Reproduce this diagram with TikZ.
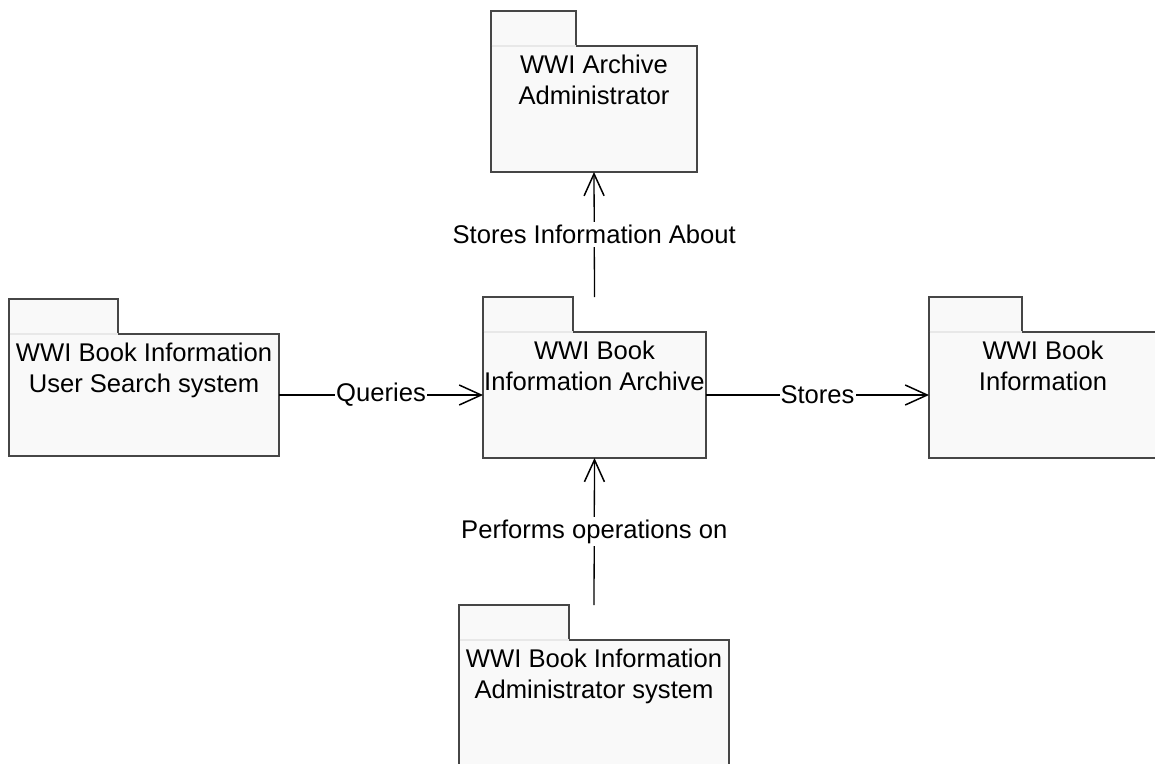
\documentclass[tikz,border=0pt]{standalone}
\usepackage{fontspec}
\setmainfont{Liberation Sans}
\usetikzlibrary{arrows.meta}
\usetikzlibrary{positioning}
\definecolor{pkgfill}{RGB}{249,249,249}
\definecolor{pkgline}{RGB}{70,70,70}
\definecolor{pkgfaint}{RGB}{232,232,232}
\tikzset{txt/.style={font=\fontsize{25.6}{31}\selectfont}}
\tikzset{pkgbody/.style={draw=pkgline,fill=pkgfill,line width=1.3pt,inner sep=0pt,outer sep=0pt,minimum height=126}}
\tikzset{pkgtab/.style={pkgbody,minimum height=35}}
\tikzset{pkgtext/.style={txt,align=center,inner sep=0pt}}
\tikzset{conn/.style={line width=1.3pt,-{Straight Barb[length=22pt,width=20pt,line width=1.5pt]}}}
\tikzset{lbl/.style={txt,fill=white,inner xsep=1pt,inner ysep=3pt}}
% package: name, centre, body options, tab width, text
\newcommand{\umlpackage}[5]{%
  \node[pkgbody,#3] (#1) at (#2) {};
  \node[pkgtab,minimum width=#4,anchor=south west] (#1tab) at (#1.north west) {};
  \draw[pkgfaint,line width=1.3pt,shorten <=0.7pt] (#1tab.south west) -- (#1tab.south east);
  \node[pkgtext,below=8.5pt of #1.north] (#1txt) {#5};
}

\begin{document}
\begin{tikzpicture}[x=1pt,y=-1pt]
  \useasboundingbox (0,0) rectangle (1155,763);
  \clip (0,0) rectangle (1155,763);
  \umlpackage{admin}{594,109}{minimum width=206}{85}{WWI Archive\\Administrator}
  \umlpackage{archive}{594.5,395}{minimum width=223}{90}{WWI Book\\Information Archive}
  \umlpackage{user}{144,395}{minimum width=270,minimum height=122}{109}{WWI Book Information\\User Search system}
  \umlpackage{info}{1043,395}{minimum width=228}{93}{WWI Book\\Information}
  \umlpackage{opsys}{594,703}{minimum width=270}{110}{WWI Book Information\\Administrator system}
  \draw[conn] (user.east) -- node[lbl] {Queries} (archive.west);
  \draw[conn] (archive.east) -- node[lbl] {Stores} (info.west);
  \draw[conn] (archive.north |- archivetab.north) -- node[lbl] {Stores Information About} (admin.south);
  \draw[conn] (opsys.north |- opsystab.north) -- node[lbl] {Performs operations on} (archive.south);
\end{tikzpicture}
\end{document}
